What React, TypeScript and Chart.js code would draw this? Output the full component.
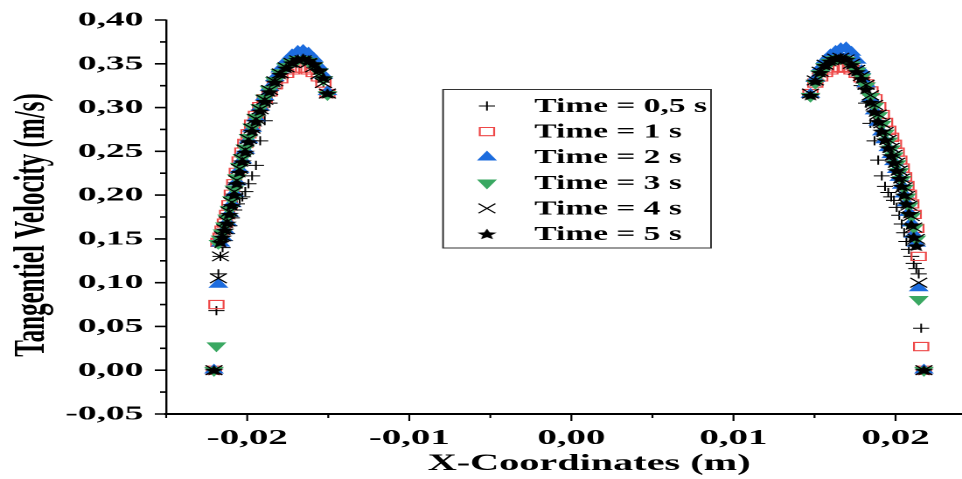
import React, { useEffect, useRef } from 'react';
import { Chart, registerables } from 'chart.js';
import { drawPoint } from 'chart.js/helpers';

Chart.register(...registerables);

const SERIES_LABELS = ['Time = 0,5 s', 'Time = 1 s', 'Time = 2 s', 'Time = 3 s', 'Time = 4 s', 'Time = 5 s'];
const Y_TICKS = [-0.05, 0, 0.05, 0.1, 0.15, 0.2, 0.25, 0.3, 0.35, 0.4];
const X_TICKS = [-0.02, -0.01, 0, 0.01, 0.02];
const X_TITLE = 'X-Coordinates (m)';
const Y_TITLE = 'Tangentiel Velocity (m/s)';

const X_LEFT = [-0.02205, -0.0219, -0.02178, -0.02165, -0.02152, -0.02138, -0.02124, -0.0211, -0.02095, -0.0208, -0.02064, -0.02047, -0.0203, -0.02012, -0.01992, -0.0197, -0.01946, -0.0192, -0.01892, -0.01862, -0.0183, -0.01796, -0.0176, -0.01723, -0.01688, -0.01655, -0.01622, -0.0159, -0.01558, -0.0153, -0.01505];
const X_RIGHT = [0.01475, 0.01505, 0.01535, 0.01565, 0.01598, 0.0163, 0.01662, 0.01695, 0.01728, 0.0176, 0.0179, 0.01818, 0.01845, 0.0187, 0.01893, 0.01915, 0.01935, 0.01955, 0.01973, 0.0199, 0.02007, 0.02023, 0.02038, 0.02053, 0.02067, 0.02082, 0.02097, 0.02112, 0.02128, 0.02143, 0.02158, 0.02175];

const V05_LEFT = [0, 0.068, 0.11, 0.13, 0.14, 0.148, 0.156, 0.165, 0.174, 0.183, 0.19, 0.196, 0.198, 0.204, 0.213, 0.222, 0.234, 0.262, 0.285, 0.305, 0.322, 0.335, 0.348, 0.355, 0.358, 0.356, 0.352, 0.346, 0.338, 0.329, 0.315];
const V1_LEFT = [0, 0.075, 0.146, 0.152, 0.16, 0.168, 0.178, 0.189, 0.201, 0.213, 0.226, 0.239, 0.249, 0.259, 0.27, 0.281, 0.291, 0.301, 0.31, 0.318, 0.326, 0.333, 0.339, 0.343, 0.345, 0.345, 0.343, 0.34, 0.335, 0.328, 0.316];
const V2_LEFT = [0, null, 0.098, 0.145, 0.152, 0.16, 0.169, 0.179, 0.19, 0.202, 0.215, 0.229, 0.24, 0.251, 0.263, 0.276, 0.288, 0.3, 0.312, 0.323, 0.334, 0.344, 0.353, 0.36, 0.364, 0.365, 0.362, 0.356, 0.347, 0.337, 0.318];
const V3_LEFT = [0, 0.028, 0.145, 0.15, 0.157, 0.165, 0.174, 0.184, 0.195, 0.207, 0.22, 0.233, 0.243, 0.254, 0.266, 0.278, 0.289, 0.3, 0.311, 0.321, 0.331, 0.34, 0.347, 0.352, 0.355, 0.355, 0.353, 0.348, 0.341, 0.332, 0.315];
const V4_LEFT = [0, null, 0.105, 0.13, 0.153, 0.161, 0.17, 0.181, 0.192, 0.204, 0.217, 0.23, 0.241, 0.252, 0.264, 0.276, 0.287, 0.298, 0.309, 0.32, 0.33, 0.339, 0.346, 0.351, 0.354, 0.354, 0.351, 0.346, 0.338, 0.328, 0.316];
const V5_LEFT = [0, null, null, 0.146, 0.152, 0.16, 0.168, 0.178, 0.188, 0.2, 0.213, 0.226, 0.238, 0.249, 0.261, 0.273, 0.284, 0.296, 0.307, 0.318, 0.329, 0.338, 0.345, 0.351, 0.355, 0.356, 0.354, 0.35, 0.343, 0.334, 0.316];

const V05_RIGHT = [0.314, 0.329, 0.339, 0.347, 0.352, 0.355, 0.356, 0.354, 0.348, 0.338, 0.325, 0.305, 0.282, 0.262, 0.24, 0.222, 0.21, 0.203, 0.198, 0.194, 0.186, 0.177, 0.167, 0.157, 0.147, 0.138, 0.13, 0.122, 0.116, 0.11, 0.048, 0];
const V1_RIGHT = [0.316, 0.328, 0.335, 0.34, 0.343, 0.345, 0.346, 0.345, 0.343, 0.339, 0.334, 0.327, 0.319, 0.31, 0.301, 0.292, 0.283, 0.274, 0.266, 0.258, 0.249, 0.24, 0.231, 0.221, 0.211, 0.201, 0.19, 0.178, 0.162, 0.13, 0.027, 0];
const V2_RIGHT = [0.315, 0.333, 0.345, 0.354, 0.36, 0.364, 0.367, 0.368, 0.363, 0.354, 0.342, 0.327, 0.31, 0.296, 0.283, 0.272, 0.263, 0.254, 0.246, 0.238, 0.229, 0.22, 0.211, 0.201, 0.191, 0.18, 0.168, 0.155, 0.145, 0.094, null, 0];
const V3_RIGHT = [0.313, 0.328, 0.339, 0.347, 0.352, 0.355, 0.356, 0.354, 0.349, 0.342, 0.335, 0.325, 0.313, 0.302, 0.291, 0.281, 0.271, 0.262, 0.253, 0.245, 0.236, 0.227, 0.218, 0.208, 0.198, 0.188, 0.176, 0.163, 0.15, 0.081, null, 0];
const V4_RIGHT = [0.316, 0.331, 0.341, 0.349, 0.354, 0.356, 0.357, 0.355, 0.35, 0.343, 0.336, 0.326, 0.314, 0.303, 0.292, 0.282, 0.272, 0.263, 0.254, 0.246, 0.237, 0.228, 0.219, 0.209, 0.199, 0.188, 0.176, 0.163, 0.15, 0.1, null, 0];
const V5_RIGHT = [0.314, 0.33, 0.34, 0.348, 0.353, 0.356, 0.357, 0.355, 0.349, 0.341, 0.333, 0.321, 0.306, 0.295, 0.284, 0.273, 0.263, 0.254, 0.245, 0.237, 0.228, 0.219, 0.21, 0.2, 0.19, 0.179, 0.166, 0.152, 0.142, null, null, 0];

const LEFT_VALUES = [V05_LEFT, V1_LEFT, V2_LEFT, V3_LEFT, V4_LEFT, V5_LEFT];
const RIGHT_VALUES = [V05_RIGHT, V1_RIGHT, V2_RIGHT, V3_RIGHT, V4_RIGHT, V5_RIGHT];

const SERIF = "'Liberation Serif', 'Times New Roman', serif";
const CANVAS_W = 550;
const CANVAS_H = 479;
const STRETCH = 962 / CANVAS_W;

function fmt(v: number) {
  const n = Math.abs(v) < 1e-9 ? 0 : v;
  return n.toFixed(2).replace('.', ',');
}

function buildPoints(i: number) {
  const pts: { x: number; y: number }[] = [];
  X_LEFT.forEach((x, k) => {
    const y = LEFT_VALUES[i][k];
    if (y !== null && y !== undefined) pts.push({ x, y });
  });
  X_RIGHT.forEach((x, k) => {
    const y = RIGHT_VALUES[i][k];
    if (y !== null && y !== undefined) pts.push({ x, y });
  });
  return pts;
}

function makeStarImage() {
  const css = 12;
  const scale = 4;
  const c = document.createElement('canvas');
  c.width = css * scale;
  c.height = css * scale;
  const g = c.getContext('2d')!;
  g.scale(scale, scale);
  const cx = css / 2;
  const cy = css / 2 + 0.5;
  const R = 5.8;
  const r = R * 0.45;
  g.beginPath();
  for (let i = 0; i < 10; i++) {
    const ang = -Math.PI / 2 + (i * Math.PI) / 5;
    const rr = i % 2 === 0 ? R : r;
    const px = cx + Math.cos(ang) * rr;
    const py = cy + Math.sin(ang) * rr;
    if (i === 0) g.moveTo(px, py);
    else g.lineTo(px, py);
  }
  g.closePath();
  g.fillStyle = '#000';
  g.fill();
  const img = new Image();
  img.width = css;
  img.height = css;
  img.src = c.toDataURL();
  return img;
}

function drawText(ctx: CanvasRenderingContext2D, text: string, x: number, y: number, font: string, sx: number, align: CanvasTextAlign, rot = 0) {
  ctx.save();
  ctx.translate(x, y);
  if (rot) ctx.rotate(rot);
  ctx.scale(sx, 1);
  ctx.font = font;
  ctx.fillStyle = '#000';
  ctx.textAlign = align;
  ctx.textBaseline = 'middle';
  ctx.fillText(text, 0, 0);
  ctx.restore();
}

const axisPlugin = {
  id: 'axisDecor',
  afterDraw(chart: any) {
    const { ctx, chartArea: a, scales } = chart;
    const x = scales.x;
    const y = scales.y;
    ctx.save();
    ctx.strokeStyle = '#000';
    ctx.lineWidth = 1.6;
    ctx.beginPath();
    Y_TICKS.forEach((v, i) => {
      const py = y.getPixelForValue(v);
      ctx.moveTo(a.left, py);
      ctx.lineTo(a.left - 6.5, py);
      if (i < Y_TICKS.length - 1) {
        const pm = y.getPixelForValue((v + Y_TICKS[i + 1]) / 2);
        ctx.moveTo(a.left, pm);
        ctx.lineTo(a.left - 3.5, pm);
      }
    });
    ctx.stroke();
    ctx.lineWidth = 1.1;
    ctx.beginPath();
    const half = (X_TICKS[1] - X_TICKS[0]) / 2;
    X_TICKS.forEach((v, i) => {
      const px = x.getPixelForValue(v);
      ctx.moveTo(px, a.bottom);
      ctx.lineTo(px, a.bottom + 7);
      const mids = [v - half];
      if (i === X_TICKS.length - 1) mids.push(v + half);
      mids.forEach((m) => {
        if (m >= x.min - 1e-9 && m <= x.max + 1e-9) {
          const pm = x.getPixelForValue(m);
          ctx.moveTo(pm, a.bottom);
          ctx.lineTo(pm, a.bottom + 4);
        }
      });
    });
    ctx.stroke();
    ctx.restore();

    const yFont = `bold 19.5px ${SERIF}`;
    Y_TICKS.forEach((v) => {
      drawText(ctx, fmt(v), a.left - 13, y.getPixelForValue(v) + 0.5, yFont, 1.1, 'right');
    });
    const xFont = `bold 21px ${SERIF}`;
    X_TICKS.forEach((v) => {
      drawText(ctx, fmt(v), x.getPixelForValue(v), a.bottom + 24.5, xFont, 1.06, 'center');
    });
    drawText(ctx, X_TITLE, 336.8, 464, `bold 23px ${SERIF}`, 1, 'center');
    drawText(ctx, Y_TITLE, 18.6, 225, `bold 25px ${SERIF}`, 1, 'center', -Math.PI / 2);
  },
};

const legendPlugin = {
  id: 'boxLegend',
  afterDatasetsDraw(chart: any) {
    const { ctx } = chart;
    const left = 253.3;
    const top = 89.5;
    const w = 153.2;
    const h = 158.5;
    ctx.save();
    ctx.fillStyle = '#fff';
    ctx.fillRect(left, top, w, h);
    ctx.strokeStyle = '#333';
    ctx.lineWidth = 1;
    ctx.strokeRect(left, top, w, h);
    chart.data.datasets.forEach((ds: any, i: number) => {
      const cy = top + 16.5 + i * 25.6;
      ctx.fillStyle = ds.backgroundColor;
      ctx.strokeStyle = ds.borderColor;
      ctx.lineWidth = ds.borderWidth;
      drawPoint(
        ctx,
        { pointStyle: ds.pointStyle, rotation: ds.pointRotation || 0, radius: ds.pointRadius, borderWidth: ds.borderWidth },
        278.4,
        cy
      );
      drawText(ctx, ds.label, 305.5, cy + 1, `bold 19.5px ${SERIF}`, 0.98, 'left');
    });
    ctx.restore();
  },
};

export default function App() {
  const ref = useRef<HTMLCanvasElement | null>(null);

  useEffect(() => {
    document.body.style.margin = '0';
    const canvas = ref.current;
    if (!canvas) return;
    const star = makeStarImage();

    const styles = [
      { pointStyle: 'cross', pointRadius: 4.6, pointRotation: 0, borderColor: '#000', backgroundColor: 'rgba(0,0,0,0)', borderWidth: 1, order: 5 },
      { pointStyle: 'rect', pointRadius: 5.8, pointRotation: 0, borderColor: 'rgb(238,72,72)', backgroundColor: 'rgba(255,255,255,0)', borderWidth: 1.1, order: 4 },
      { pointStyle: 'triangle', pointRadius: 6.6, pointRotation: 0, borderColor: 'rgb(28,108,222)', backgroundColor: 'rgb(28,108,222)', borderWidth: 0, order: 3 },
      { pointStyle: 'triangle', pointRadius: 6.6, pointRotation: 180, borderColor: 'rgb(58,168,98)', backgroundColor: 'rgb(58,168,98)', borderWidth: 0, order: 2 },
      { pointStyle: 'crossRot', pointRadius: 6.8, pointRotation: 0, borderColor: '#000', backgroundColor: 'rgba(0,0,0,0)', borderWidth: 1, order: 1 },
      { pointStyle: star, pointRadius: 6, pointRotation: 0, borderColor: '#000', backgroundColor: '#000', borderWidth: 0, order: 0 },
    ];

    const datasets = SERIES_LABELS.map((label, i) => ({
      label,
      data: buildPoints(i),
      showLine: false,
      pointHoverRadius: styles[i].pointRadius,
      ...styles[i],
    }));

    const chart = new Chart(canvas, {
      type: 'scatter',
      data: { datasets: datasets as any },
      options: {
        animation: false,
        responsive: false,
        devicePixelRatio: 2,
        events: [],
        layout: { autoPadding: false, padding: { top: 20, right: 0, bottom: 0, left: 0 } },
        plugins: { legend: { display: false }, tooltip: { enabled: false } },
        scales: {
          x: {
            type: 'linear',
            min: -0.025,
            max: 0.0241,
            grid: { display: false, drawTicks: false },
            border: { display: true, color: '#000', width: 2 },
            afterBuildTicks: (s: any) => {
              s.ticks = X_TICKS.map((v) => ({ value: v }));
            },
            afterFit: (s: any) => {
              s.height = 65;
            },
            ticks: { display: false },
            title: { display: false },
          },
          y: {
            type: 'linear',
            min: -0.05,
            max: 0.4,
            grid: { display: false, drawTicks: false },
            border: { display: true, color: '#000', width: 1.2 },
            afterBuildTicks: (s: any) => {
              s.ticks = Y_TICKS.map((v) => ({ value: v }));
            },
            afterFit: (s: any) => {
              s.width = 95;
            },
            ticks: { display: false },
            title: { display: false },
          },
        },
      },
      plugins: [axisPlugin, legendPlugin],
    });

    star.onload = () => {
      chart.draw();
    };
    if (star.complete) chart.draw();

    return () => {
      chart.destroy();
    };
  }, []);

  return (
    <div style={{ width: 962, height: 479, overflow: 'hidden', background: '#fff' }}>
      <div style={{ width: CANVAS_W, height: CANVAS_H, transform: `scaleX(${STRETCH})`, transformOrigin: '0 0' }}>
        <canvas ref={ref} width={CANVAS_W} height={CANVAS_H} />
      </div>
    </div>
  );
}
